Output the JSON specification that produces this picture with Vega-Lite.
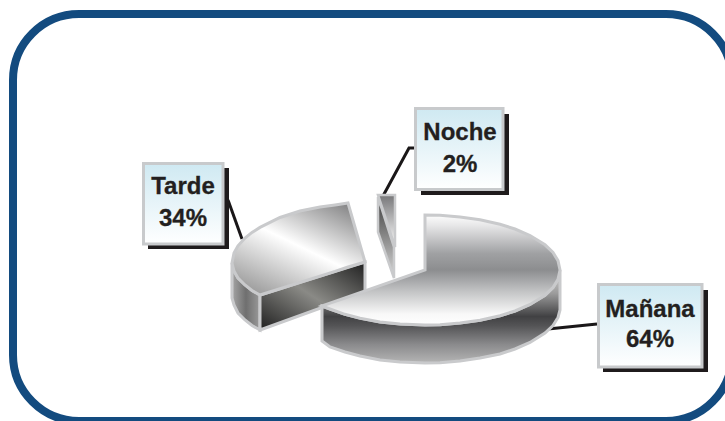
{
"$schema":"https://vega.github.io/schema/vega-lite/v6.json",
"width":725,"height":421,"padding":0,
"autosize":{"type":"fit","contains":"padding"},
"background":"white",
"view":{"stroke":null},
"datasets":{
"marco":[{"x":13,"x2":732,"y":14,"y2":421}],
"etiquetas":[
{"categoria":"Tarde","pct":0.34,"cx":183,"yn":194,"yp":226,"x":143.5,"x2":223,"y":163.5,"y2":244,"sx":148,"sx2":229,"sy":168,"sy2":249},
{"categoria":"Noche","pct":0.02,"cx":460,"yn":140,"yp":172,"x":415.5,"x2":503,"y":108.5,"y2":189.5,"sx":421,"sx2":509,"sy":114,"sy2":195},
{"categoria":"Mañana","pct":0.64,"cx":650,"yn":317,"yp":347,"x":598.5,"x2":702,"y":284.5,"y2":367,"sx":603,"sx2":708,"sy":290,"sy2":372}
],
"guias":[
{"g":"Tarde","x":228,"y":200},{"g":"Tarde","x":242,"y":239},
{"g":"Noche","x":415,"y":148},{"g":"Noche","x":409,"y":148},{"g":"Noche","x":383,"y":196},
{"g":"Mañana","x":548,"y":329},{"g":"Mañana","x":597,"y":324}
],
"pastel":[
{"p":"TL","x":232,"y":263,"y2":298},{"p":"TL","x":234,"y":271,"y2":305},{"p":"TL","x":238,"y":278,"y2":313},{"p":"TL","x":245,"y":285,"y2":320},{"p":"TL","x":252,"y":290.5,"y2":325.5},{"p":"TL","x":260,"y":295,"y2":330},
{"p":"TR","x":260,"y":295,"y2":330},{"p":"TR","x":365,"y":262,"y2":292},
{"p":"TS","x":232,"y":263,"y2":263},{"p":"TS","x":234,"y":253,"y2":271},{"p":"TS","x":238,"y":245.8,"y2":278},{"p":"TS","x":245,"y":238,"y2":285},{"p":"TS","x":252,"y":232.4,"y2":290.5},{"p":"TS","x":260,"y":227.4,"y2":295},{"p":"TS","x":280,"y":217.5,"y2":288.7},{"p":"TS","x":300,"y":211,"y2":282.4},{"p":"TS","x":320,"y":207,"y2":276.1},{"p":"TS","x":335,"y":205,"y2":271.4},{"p":"TS","x":348,"y":203,"y2":267},{"p":"TS","x":365,"y":262,"y2":262},
{"p":"NL","x":378,"y":197,"y2":232},{"p":"NL","x":394,"y":247,"y2":278},
{"p":"NS","x":378,"y":195,"y2":195},{"p":"NS","x":395,"y":195,"y2":247},
{"p":"ML","x":322,"y":306,"y2":341},{"p":"ML","x":330,"y":309,"y2":347},{"p":"ML","x":345,"y":314.3,"y2":352},{"p":"ML","x":360,"y":318,"y2":356},{"p":"ML","x":380,"y":322,"y2":360},{"p":"ML","x":400,"y":324,"y2":362},{"p":"ML","x":425,"y":325,"y2":363},{"p":"ML","x":440,"y":324.7,"y2":362.7},{"p":"ML","x":460,"y":323.1,"y2":361},{"p":"ML","x":480,"y":320.2,"y2":358},{"p":"ML","x":500,"y":315.7,"y2":354},{"p":"ML","x":515,"y":311,"y2":349},{"p":"ML","x":530,"y":304.5,"y2":342.5},{"p":"ML","x":545,"y":295.2,"y2":333},{"p":"ML","x":553,"y":287.5,"y2":325.5},{"p":"ML","x":558,"y":279.4,"y2":317.5},{"p":"ML","x":560,"y":270,"y2":310},
{"p":"MS","x":322,"y":306,"y2":306},{"p":"MS","x":330,"y":303.2,"y2":309},{"p":"MS","x":345,"y":298,"y2":314.3},{"p":"MS","x":360,"y":292.7,"y2":318.2},{"p":"MS","x":380,"y":285.7,"y2":321.9},{"p":"MS","x":400,"y":278.7,"y2":324},{"p":"MS","x":425,"y":270,"y2":325},{"p":"MS","x":425,"y":215,"y2":325},{"p":"MS","x":440,"y":215.3,"y2":324.7},{"p":"MS","x":460,"y":216.9,"y2":323.1},{"p":"MS","x":480,"y":219.8,"y2":320.2},{"p":"MS","x":500,"y":224.3,"y2":315.7},{"p":"MS","x":515,"y":229,"y2":311},{"p":"MS","x":530,"y":235.5,"y2":304.5},{"p":"MS","x":545,"y":244.8,"y2":295.2},{"p":"MS","x":553,"y":252.5,"y2":287.5},{"p":"MS","x":558,"y":260.6,"y2":279.4},{"p":"MS","x":560,"y":270,"y2":270}
]},
"encoding":{
"x":{"field":"x","type":"quantitative","scale":{"domain":[0,725],"nice":false,"zero":false},"axis":null},
"y":{"field":"y","type":"quantitative","scale":{"domain":[421,0],"nice":false,"zero":false},"axis":null}
},
"layer":[
{"data":{"name":"marco"},"mark":{"type":"rect","fill":null,"stroke":"#134b7f","strokeWidth":8,"cornerRadius":66,"clip":true},
 "encoding":{"x2":{"field":"x2"},"y2":{"field":"y2"}}},
{"data":{"name":"guias"},"mark":{"type":"line","stroke":"#1a1718","strokeWidth":3},"encoding":{"detail":{"field":"g"},"order":{"value":null}}},
{"data":{"name":"etiquetas"},"mark":{"type":"rect","fill":"#1f1b1c"},
 "encoding":{"x":{"field":"sx","type":"quantitative"},"x2":{"field":"sx2"},"y":{"field":"sy","type":"quantitative"},"y2":{"field":"sy2"}}},
{"data":{"name":"etiquetas"},"mark":{"type":"rect","stroke":"#c8cacc","strokeWidth":3,"fill":{"gradient":"linear","x1":0,"y1":0,"x2":0,"y2":1,"stops":[{"offset":0,"color":"#cfe9f2"},{"offset":1,"color":"#ffffff"}]}},
 "encoding":{"x2":{"field":"x2"},"y2":{"field":"y2"}}},
{"data":{"name":"pastel"},"transform":[{"filter":"datum.p==='TL'"}],"mark":{"type":"area","stroke":"#c9cacc","strokeWidth":3,"fill":{"gradient":"linear","x1":0,"y1":0,"x2":1,"y2":0,"stops":[{"offset":0,"color":"#a5a5a5"},{"offset":0.5,"color":"#6f6f6f"},{"offset":1,"color":"#9a9a9a"}]}},"encoding":{"y2":{"field":"y2"}}},
{"data":{"name":"pastel"},"transform":[{"filter":"datum.p==='TR'"}],"mark":{"type":"area","stroke":"#c9cacc","strokeWidth":3,"fill":{"gradient":"linear","x1":0,"y1":1,"x2":1,"y2":0,"stops":[{"offset":0,"color":"#1f1f1f"},{"offset":0.5,"color":"#8a8a86"},{"offset":1,"color":"#1f1f1f"}]}},"encoding":{"y2":{"field":"y2"}}},
{"data":{"name":"pastel"},"transform":[{"filter":"datum.p==='TS'"}],"mark":{"type":"area","stroke":"#c9cacc","strokeWidth":3,"fill":{"gradient":"linear","x1":0.9,"y1":0,"x2":0.2,"y2":1,"stops":[{"offset":0,"color":"#7f7f80"},{"offset":0.5,"color":"#ffffff"},{"offset":1,"color":"#9c9c9c"}]}},"encoding":{"y2":{"field":"y2"}}},
{"data":{"name":"pastel"},"transform":[{"filter":"datum.p==='NL'"}],"mark":{"type":"area","stroke":"#c9cacc","strokeWidth":2.5,"fill":{"gradient":"linear","x1":0,"y1":0,"x2":0,"y2":1,"stops":[{"offset":0,"color":"#3c3c3c"},{"offset":0.5,"color":"#8a8a8a"},{"offset":1,"color":"#d8d8d8"}]}},"encoding":{"y2":{"field":"y2"}}},
{"data":{"name":"pastel"},"transform":[{"filter":"datum.p==='NS'"}],"mark":{"type":"area","stroke":"#c9cacc","strokeWidth":2.5,"fill":{"gradient":"linear","x1":0,"y1":0,"x2":0,"y2":1,"stops":[{"offset":0,"color":"#777779"},{"offset":1,"color":"#ffffff"}]}},"encoding":{"y2":{"field":"y2"}}},
{"data":{"name":"pastel"},"transform":[{"filter":"datum.p==='ML'"}],"mark":{"type":"area","stroke":"#c9cacc","strokeWidth":3,"fill":{"gradient":"linear","x1":0,"y1":0,"x2":0,"y2":1,"stops":[{"offset":0,"color":"#d5d5d5"},{"offset":0.25,"color":"#9c9c9c"},{"offset":0.5,"color":"#414143"},{"offset":0.6,"color":"#545456"},{"offset":0.8,"color":"#8a8a8c"},{"offset":1,"color":"#b5b5b5"}]}},"encoding":{"y2":{"field":"y2"}}},
{"data":{"name":"pastel"},"transform":[{"filter":"datum.p==='MS'"}],"mark":{"type":"area","stroke":"#c9cacc","strokeWidth":3,"fill":{"gradient":"linear","x1":0,"y1":0,"x2":0,"y2":1,"stops":[{"offset":0,"color":"#fdfdfd"},{"offset":0.1,"color":"#e6e6e7"},{"offset":0.35,"color":"#a0a1a3"},{"offset":0.5,"color":"#8c8d8f"},{"offset":0.7,"color":"#c4c5c6"},{"offset":0.9,"color":"#f8f8f8"},{"offset":1,"color":"#ffffff"}]}},"encoding":{"y2":{"field":"y2"}}},
{"data":{"name":"etiquetas"},"mark":{"type":"text","font":"Liberation Sans","fontWeight":"bold","fontSize":24,"color":"#231f20","stroke":"#231f20","strokeWidth":0.3,"align":"center","baseline":"alphabetic"},
 "encoding":{"x":{"field":"cx","type":"quantitative"},"y":{"field":"yn","type":"quantitative"},"text":{"field":"categoria"}}},
{"data":{"name":"etiquetas"},"mark":{"type":"text","font":"Liberation Sans","fontWeight":"bold","fontSize":24,"color":"#231f20","stroke":"#231f20","strokeWidth":0.3,"align":"center","baseline":"alphabetic"},
 "encoding":{"x":{"field":"cx","type":"quantitative"},"y":{"field":"yp","type":"quantitative"},"text":{"field":"pct","type":"quantitative","format":".0%"}}}
]
}
